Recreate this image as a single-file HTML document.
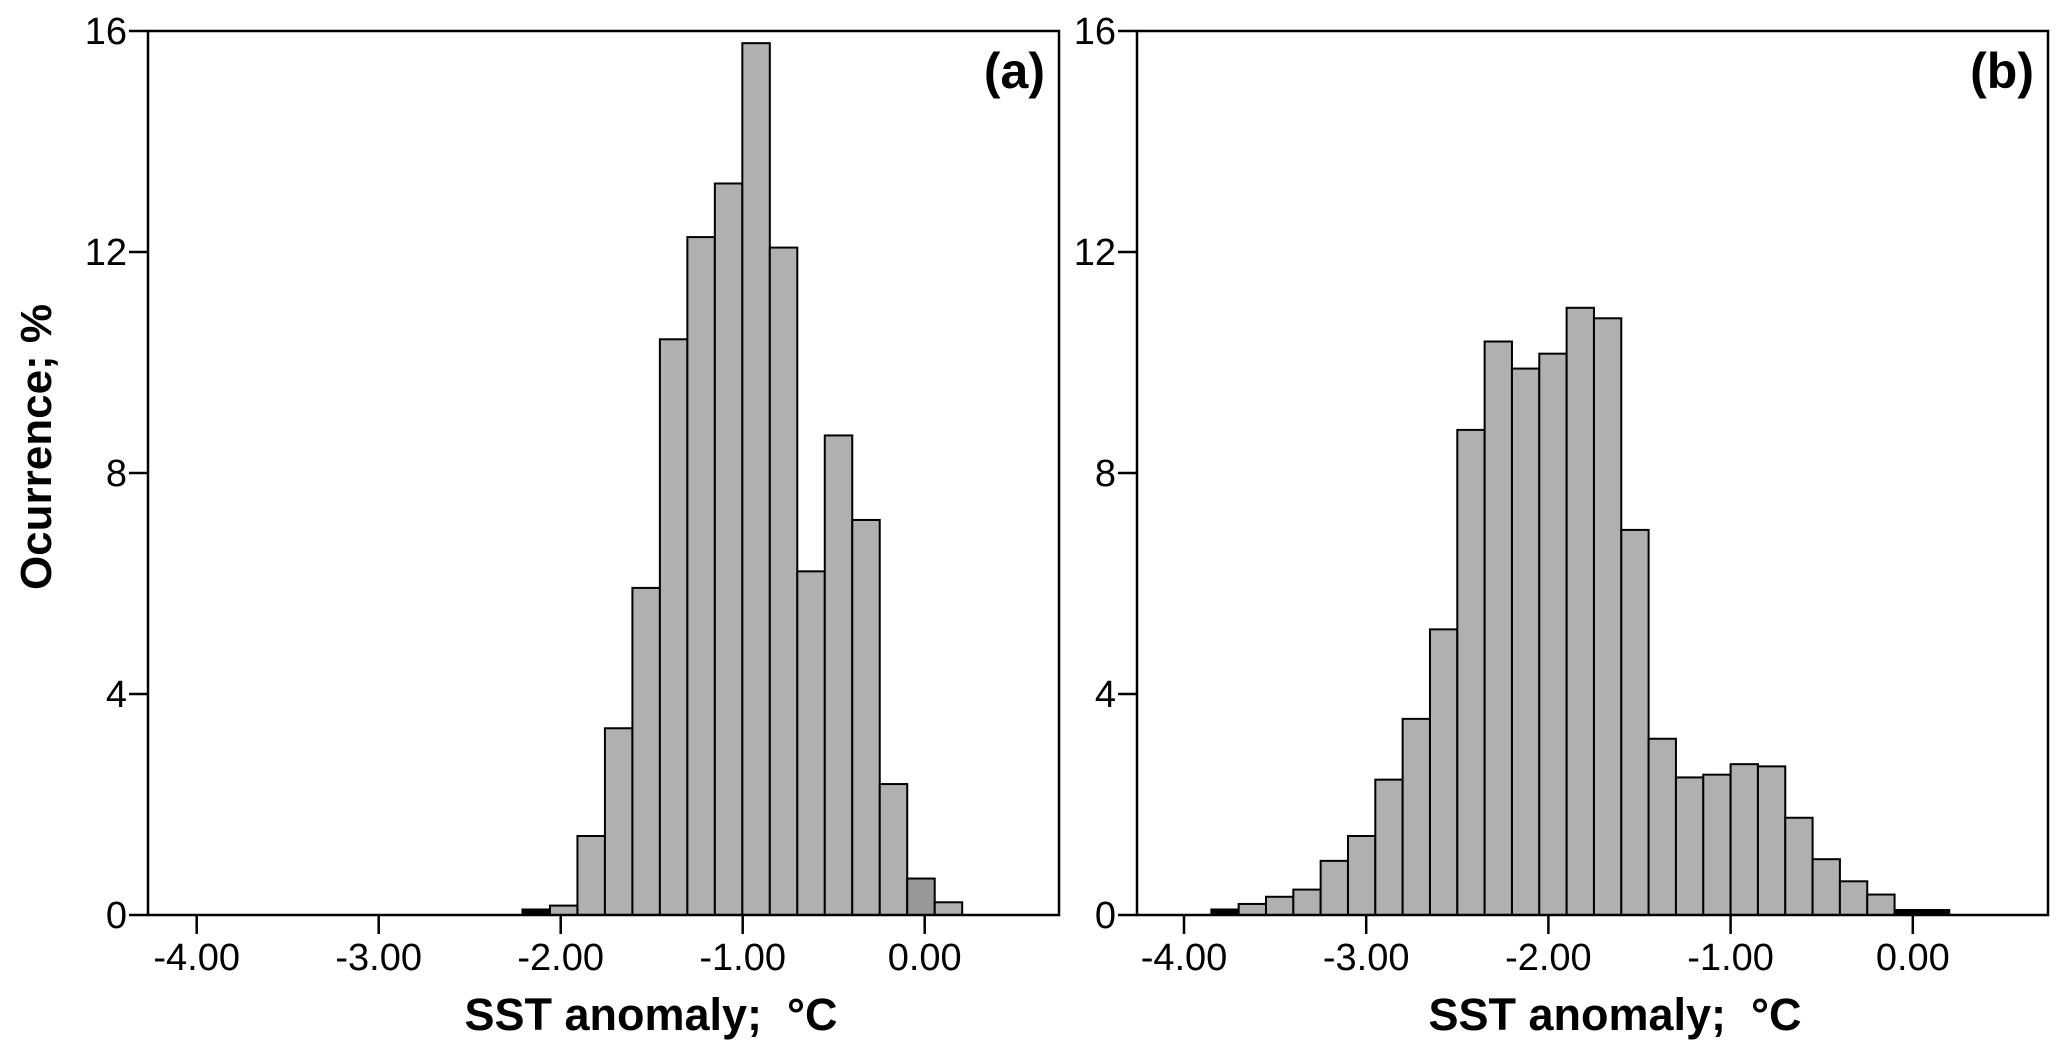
<!DOCTYPE html>
<html><head><meta charset="utf-8"><style>
html,body{margin:0;padding:0;background:#fff;}
svg{display:block;font-family:"Liberation Sans",Arial,sans-serif;}
</style></head><body>
<svg id="chart" width="2067" height="1058" viewBox="0 0 2067 1058" xmlns="http://www.w3.org/2000/svg"></svg>
<script>
// Panel (a) data
const aBinStart = -2.21;
const aBinWidth = 0.151;
const aValues = [0.1, 0.17, 1.43, 3.38, 5.92, 10.42, 12.27, 13.24, 15.78, 12.08, 6.22, 8.68, 7.15, 2.37, 0.66, 0.23];
// Panel (b) data
const bBinStart = -3.85;
const bBinWidth = 0.15;
const bValues = [0.1, 0.2, 0.33, 0.46, 0.98, 1.43, 2.45, 3.55, 5.17, 8.78, 10.38, 9.89, 10.16, 10.99, 10.8, 6.97, 3.19, 2.49, 2.54, 2.73, 2.69, 1.76, 1.01, 0.61, 0.37, 0.09, 0.09];
const xTicks = [-4, -3, -2, -1, 0];
const xTickLabels = ["-4.00", "-3.00", "-2.00", "-1.00", "0.00"];
const yTicks = [0, 4, 8, 12, 16];
const yTickLabels = ["0", "4", "8", "12", "16"];

const NS = "http://www.w3.org/2000/svg";
const svgEl = document.getElementById("chart");
function mk(tag, attrs, parent) {
  const e = document.createElementNS(NS, tag);
  for (const k in attrs) e.setAttribute(k, attrs[k]);
  (parent || svgEl).appendChild(e);
  return e;
}

const panels = [
  {id: "a", left: 148, right: 1059, x0px: 196.7, unit: 182.0, start: aBinStart, width: aBinWidth, values: aValues, tag: "(a)", titleX: 651},
  {id: "b", left: 1137, right: 2048, x0px: 1184, unit: 182.2, start: bBinStart, width: bBinWidth, values: bValues, tag: "(b)", titleX: 1615}
];
const plotTop = 31, plotBottom = 915, yMax = 16;

panels.forEach(p => {
  const xs = v => p.x0px + (v + 4) * p.unit;
  const ys = v => plotBottom - v / yMax * (plotBottom - plotTop);
  const g = mk("g", {});
  
  

  p.values.forEach((v, i) => {
    const x1 = xs(p.start + i * p.width), x2 = xs(p.start + (i + 1) * p.width);
    const y = ys(v);
    const h = Math.max(plotBottom - y, 1);
    const tiny = h < 7;
    const r = mk("rect", {x: x1, y: plotBottom - h, width: x2 - x1, height: h,
      fill: tiny ? "#000" : (p.id === "a" && i === 14 ? "#999" : "#b0b0b0"),
      stroke: "#000", "stroke-width": 2}, g);
    
    
  });

  const fr = mk("rect", {x: p.left, y: plotTop, width: p.right - p.left, height: plotBottom - plotTop, fill: "none", stroke: "#000", "stroke-width": 2.5}, g);
  
  

  xTicks.forEach((t, i) => {
    const x = xs(t);
    const l = mk("line", {x1: x, x2: x, y1: plotBottom, y2: plotBottom + 19, stroke: "#000", "stroke-width": 2.5}, g);
    
    
    const tx = mk("text", {x: x, y: 970, "font-size": 38, "text-anchor": "middle", fill: "#000"}, g);
    tx.textContent = xTickLabels[i];
    
    
  });
  yTicks.forEach((t, i) => {
    const y = ys(t);
    const l = mk("line", {x1: p.left - 19, x2: p.left, y1: y, y2: y, stroke: "#000", "stroke-width": 2.5}, g);
    
    
    const tx = mk("text", {x: p.left - 21, y: y + 13, "font-size": 38, "text-anchor": "end", fill: "#000"}, g);
    tx.textContent = yTickLabels[i];
    
    
  });
  const tg = mk("text", {x: p.right - 14, y: 88, "font-size": 50, "font-weight": "bold", "text-anchor": "end"}, g);
  tg.textContent = p.tag;
  
  
  const xt = mk("text", {x: p.titleX, y: 1030, "font-size": 45, "font-weight": "bold", "text-anchor": "middle", style: "white-space:pre"}, g);
  xt.textContent = "SST anomaly;  °C";
  
  
});

const yt = mk("text", {x: 0, y: 0, "font-size": 44, "font-weight": "bold", "text-anchor": "middle", transform: "translate(51,447) rotate(-90)"});
yt.textContent = "Ocurrence; %";


</script>
</body></html>
